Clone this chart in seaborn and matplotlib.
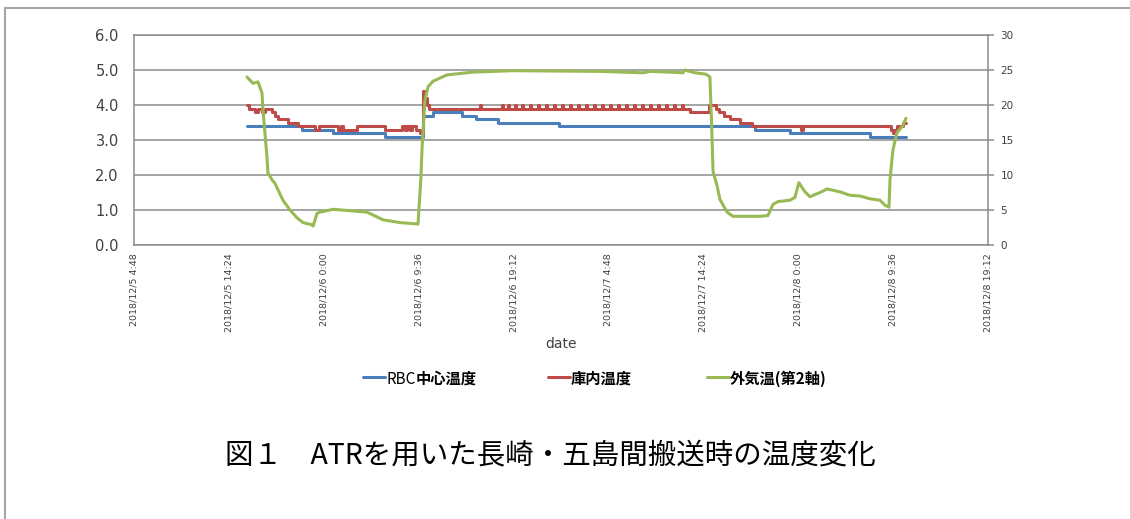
import matplotlib
matplotlib.use("Agg")
import matplotlib.pyplot as plt
from matplotlib.lines import Line2D
from matplotlib.ticker import FixedLocator, FormatStrFormatter
import pandas as pd
import seaborn as sns

# RBC core temperature (left axis, degC), logged as step changes
rbc_time = ["2018-12-05 16:14", "2018-12-05 21:48", "2018-12-06 00:56", "2018-12-06 06:12",
            "2018-12-06 10:02", "2018-12-06 11:03", "2018-12-06 13:59", "2018-12-06 15:24",
            "2018-12-06 17:37", "2018-12-06 23:49", "2018-12-07 19:37", "2018-12-07 23:10",
            "2018-12-08 07:15", "2018-12-08 10:54"]
rbc_temp = [3.4, 3.3, 3.2, 3.1, 3.7, 3.8, 3.7, 3.6, 3.5, 3.4, 3.3, 3.2, 3.1, 3.1]

# Inside-box temperature (left axis, degC)
box_time = ["2018-12-05 16:14", "2018-12-05 16:26", "2018-12-05 17:02", "2018-12-05 17:21",
            "2018-12-05 17:45", "2018-12-05 18:03", "2018-12-05 18:46", "2018-12-05 19:04",
            "2018-12-05 19:22", "2018-12-05 20:23", "2018-12-05 21:23", "2018-12-05 23:07",
            "2018-12-05 23:31", "2018-12-06 01:26", "2018-12-06 01:44", "2018-12-06 01:57",
            "2018-12-06 03:22", "2018-12-06 06:12", "2018-12-06 07:55", "2018-12-06 08:13",
            "2018-12-06 08:25", "2018-12-06 08:43", "2018-12-06 08:56", "2018-12-06 09:20",
            "2018-12-06 09:44", "2018-12-06 10:02", "2018-12-06 10:14", "2018-12-06 10:27",
            "2018-12-06 10:39",
            "2018-12-06 15:48", "2018-12-06 15:54", "2018-12-06 18:02", "2018-12-06 18:08",
            "2018-12-06 18:38", "2018-12-06 18:44", "2018-12-06 19:21", "2018-12-06 19:27",
            "2018-12-06 20:03", "2018-12-06 20:09", "2018-12-06 20:52", "2018-12-06 20:58",
            "2018-12-06 21:40", "2018-12-06 21:46", "2018-12-06 22:29", "2018-12-06 22:35",
            "2018-12-06 23:17", "2018-12-06 23:23", "2018-12-07 00:06", "2018-12-07 00:12",
            "2018-12-07 00:55", "2018-12-07 01:01", "2018-12-07 01:43", "2018-12-07 01:49",
            "2018-12-07 02:32", "2018-12-07 02:38", "2018-12-07 03:20", "2018-12-07 03:26",
            "2018-12-07 04:09", "2018-12-07 04:15", "2018-12-07 04:57", "2018-12-07 05:03",
            "2018-12-07 05:46", "2018-12-07 05:52", "2018-12-07 06:34", "2018-12-07 06:40",
            "2018-12-07 07:23", "2018-12-07 07:29", "2018-12-07 08:12", "2018-12-07 08:18",
            "2018-12-07 09:00", "2018-12-07 09:06", "2018-12-07 09:49", "2018-12-07 09:55",
            "2018-12-07 10:37", "2018-12-07 10:43", "2018-12-07 11:26", "2018-12-07 11:32",
            "2018-12-07 12:14", "2018-12-07 12:20",
            "2018-12-07 13:03", "2018-12-07 14:58", "2018-12-07 15:41", "2018-12-07 15:59",
            "2018-12-07 16:29", "2018-12-07 17:06", "2018-12-07 18:06", "2018-12-07 19:19",
            "2018-12-08 00:17", "2018-12-08 00:29", "2018-12-08 09:23", "2018-12-08 09:35",
            "2018-12-08 09:47", "2018-12-08 09:59", "2018-12-08 10:36", "2018-12-08 10:54"]
box_temp = [4.0, 3.9, 3.8, 3.9,
            3.8, 3.9, 3.8, 3.7,
            3.6, 3.5, 3.4, 3.3,
            3.4, 3.3, 3.4, 3.3,
            3.4, 3.3, 3.4, 3.3,
            3.4, 3.3, 3.4, 3.3,
            3.2, 4.4, 4.2, 4.0,
            3.9,
            4.0, 3.9, 4.0, 3.9,
            4.0, 3.9, 4.0, 3.9,
            4.0, 3.9, 4.0, 3.9,
            4.0, 3.9, 4.0, 3.9,
            4.0, 3.9, 4.0, 3.9,
            4.0, 3.9, 4.0, 3.9,
            4.0, 3.9, 4.0, 3.9,
            4.0, 3.9, 4.0, 3.9,
            4.0, 3.9, 4.0, 3.9,
            4.0, 3.9, 4.0, 3.9,
            4.0, 3.9, 4.0, 3.9,
            4.0, 3.9, 4.0, 3.9,
            4.0, 3.9,
            3.8, 4.0, 3.9, 3.8,
            3.7, 3.6, 3.5, 3.4,
            3.3, 3.4, 3.3, 3.2,
            3.3, 3.4, 3.5, 3.5]

# Outside air temperature (right axis, degC)
air_time = ["2018-12-05 16:14", "2018-12-05 16:50", "2018-12-05 17:21", "2018-12-05 17:45",
            "2018-12-05 17:51", "2018-12-05 18:03", "2018-12-05 18:15", "2018-12-05 18:21",
            "2018-12-05 18:46", "2018-12-05 19:04", "2018-12-05 19:22", "2018-12-05 19:52",
            "2018-12-05 20:35", "2018-12-05 21:17", "2018-12-05 21:54", "2018-12-05 22:48",
            "2018-12-05 22:55", "2018-12-05 23:19", "2018-12-05 23:37", "2018-12-06 00:38",
            "2018-12-06 00:56", "2018-12-06 04:22", "2018-12-06 05:59", "2018-12-06 07:43",
            "2018-12-06 09:32", "2018-12-06 09:50", "2018-12-06 09:56", "2018-12-06 10:14",
            "2018-12-06 10:33", "2018-12-06 11:03", "2018-12-06 12:28", "2018-12-06 15:06",
            "2018-12-06 19:08", "2018-12-07 03:57", "2018-12-07 08:18", "2018-12-07 09:00",
            "2018-12-07 10:49", "2018-12-07 12:20", "2018-12-07 12:32", "2018-12-07 13:33",
            "2018-12-07 14:40", "2018-12-07 15:04", "2018-12-07 15:16", "2018-12-07 15:23",
            "2018-12-07 15:47", "2018-12-07 16:05", "2018-12-07 16:48", "2018-12-07 17:24",
            "2018-12-07 20:08", "2018-12-07 20:56", "2018-12-07 21:27", "2018-12-07 21:57",
            "2018-12-07 23:10", "2018-12-07 23:40", "2018-12-08 00:04", "2018-12-08 00:41",
            "2018-12-08 01:11", "2018-12-08 02:12", "2018-12-08 02:55", "2018-12-08 04:13",
            "2018-12-08 05:14", "2018-12-08 06:15", "2018-12-08 07:16", "2018-12-08 08:16",
            "2018-12-08 08:46", "2018-12-08 09:11", "2018-12-08 09:17", "2018-12-08 09:35",
            "2018-12-08 09:59", "2018-12-08 10:36", "2018-12-08 10:54"]
air_temp = [24.0, 23.1, 23.3, 21.7,
            19.3, 16.0, 12.6, 10.3,
            9.3, 8.8, 7.9, 6.4,
            5.0, 3.9, 3.2, 2.9,
            2.7, 4.5, 4.7, 5.0,
            5.1, 4.7, 3.6, 3.2,
            3.0, 9.7, 13.6, 20.7,
            22.6, 23.4, 24.3, 24.7,
            24.9, 24.8, 24.6, 24.8,
            24.7, 24.6, 25.0, 24.6,
            24.4, 24.0, 16.0, 10.5,
            8.5, 6.5, 4.7, 4.1,
            4.1, 4.2, 5.8, 6.2,
            6.4, 6.8, 8.9, 7.6,
            6.9, 7.5, 8.0, 7.6,
            7.1, 7.0, 6.6, 6.4,
            5.7, 5.4, 9.3, 13.6,
            16.0, 17.1, 18.1]

x_tick_labels = ["2018/12/5 4:48", "2018/12/5 14:24", "2018/12/6 0:00", "2018/12/6 9:36",
                 "2018/12/6 19:12", "2018/12/7 4:48", "2018/12/7 14:24", "2018/12/8 0:00",
                 "2018/12/8 9:36", "2018/12/8 19:12"]
left_ticks = [0, 1, 2, 3, 4, 5, 6]
right_ticks = [0, 5, 10, 15, 20, 25, 30]
# Each legend label as (regular part, bold part)
series_names = [("RBC", "中心温度"), ("", "庫内温度"), ("", "外気温(第2軸)")]
title_text = "図１　ATRを用いた長崎・五島間搬送時の温度変化"

BLUE, RED, GREEN = "#4A7EBB", "#BE4B48", "#98B954"
GRID = "#8c8c8c"
TICK_TXT = "#404040"
CJK = ["Noto Sans CJK JP", "DejaVu Sans"]

sns.set_theme(style="white")
plt.rcParams["font.family"] = ["DejaVu Sans", "Noto Sans CJK JP"]

W, H = 1130, 519
fig = plt.figure(figsize=(W / 100, H / 100), dpi=100)
ax = fig.add_axes([134 / W, 1 - 245 / H, (988 - 134) / W, 210 / H])
ax2 = ax.twinx()

df_rbc = pd.DataFrame({"date": pd.to_datetime(rbc_time), "temp": rbc_temp})
df_box = pd.DataFrame({"date": pd.to_datetime(box_time), "temp": box_temp})
df_air = pd.DataFrame({"date": pd.to_datetime(air_time), "temp": air_temp})

sns.lineplot(data=df_rbc, x="date", y="temp", ax=ax, color=BLUE, lw=2.2,
             drawstyle="steps-post", estimator=None, legend=False)
sns.lineplot(data=df_box, x="date", y="temp", ax=ax, color=RED, lw=2.2,
             drawstyle="steps-post", estimator=None, legend=False)
sns.lineplot(data=df_air, x="date", y="temp", ax=ax2, color=GREEN, lw=2.2,
             estimator=None, legend=False)

tick_dates = pd.to_datetime(x_tick_labels, format="%Y/%m/%d %H:%M")
ax.set_xlim(tick_dates[0], tick_dates[-1])
ax.set_xticks(tick_dates)
ax.set_xticklabels(x_tick_labels, rotation=90)

ax.set_ylim(0, 6)
ax.yaxis.set_major_locator(FixedLocator(left_ticks))
ax.yaxis.set_major_formatter(FormatStrFormatter("%.1f"))
ax2.set_ylim(0, 30)
ax2.yaxis.set_major_locator(FixedLocator(right_ticks))

ax.grid(False)
ax2.grid(False)
ax.yaxis.grid(True, color=GRID, lw=1.1)
ax.set_axisbelow(True)

for s in ["left", "bottom", "top"]:
    ax.spines[s].set_visible(True)
    ax.spines[s].set_color(GRID)
    ax.spines[s].set_linewidth(1.1)
ax.spines["right"].set_visible(False)
for s in ["left", "bottom", "top"]:
    ax2.spines[s].set_visible(False)
ax2.spines["right"].set_visible(True)
ax2.spines["right"].set_color(GRID)
ax2.spines["right"].set_linewidth(1.1)

ax.tick_params(axis="y", length=0, pad=11, labelsize=10.5, labelcolor=TICK_TXT)
ax.tick_params(axis="x", length=0, pad=6, labelsize=6.8, labelcolor=TICK_TXT)
ax2.tick_params(axis="y", right=True, length=4, width=1.1, color=GRID, direction="out",
                pad=5, labelsize=7.5, labelcolor=TICK_TXT)

ax.set_ylabel("")
ax2.set_ylabel("")
ax2.set_xlabel("")
ax.set_xlabel("date", fontsize=10, color=TICK_TXT)
ax.xaxis.set_label_coords(0.5, -(344 - 245) / 210)
ax.xaxis.label.set_va("center")

# Legend row below the plot: colour sample, then a regular and a bold text part
fig.canvas.draw()
renderer = fig.canvas.get_renderer()
legend_y = 1 - 377 / H
legend_x = [363, 548, 707]
for x0, color, (regular, bold) in zip(legend_x, (BLUE, RED, GREEN), series_names):
    fig.add_artist(Line2D([x0 / W, (x0 + 22) / W], [legend_y, legend_y],
                          transform=fig.transFigure, color=color, lw=2.2))
    tx = (x0 + 23) / W
    if regular:
        t = fig.text(tx, legend_y, regular, ha="left", va="center_baseline",
                     family=CJK, fontsize=11, weight="normal", color="black")
        tx = t.get_window_extent(renderer).x1 / W
    fig.text(tx, legend_y, bold, ha="left", va="center_baseline",
             family=CJK, fontsize=11, weight="bold", color="black")

# Title under the chart
fig.text(550 / W, 1 - 455 / H, title_text, ha="center", va="center",
         fontsize=20.5, family=CJK, color="black")

# Frame lines around the figure
fig.add_artist(Line2D([5 / W, 1], [1 - 7.5 / H, 1 - 7.5 / H], transform=fig.transFigure,
                      color="#a6a6a6", lw=1.5))
fig.add_artist(Line2D([5 / W, 5 / W], [0, 1 - 7.5 / H], transform=fig.transFigure,
                      color="#a6a6a6", lw=1.5))

fig.savefig("out.png", dpi=100)
